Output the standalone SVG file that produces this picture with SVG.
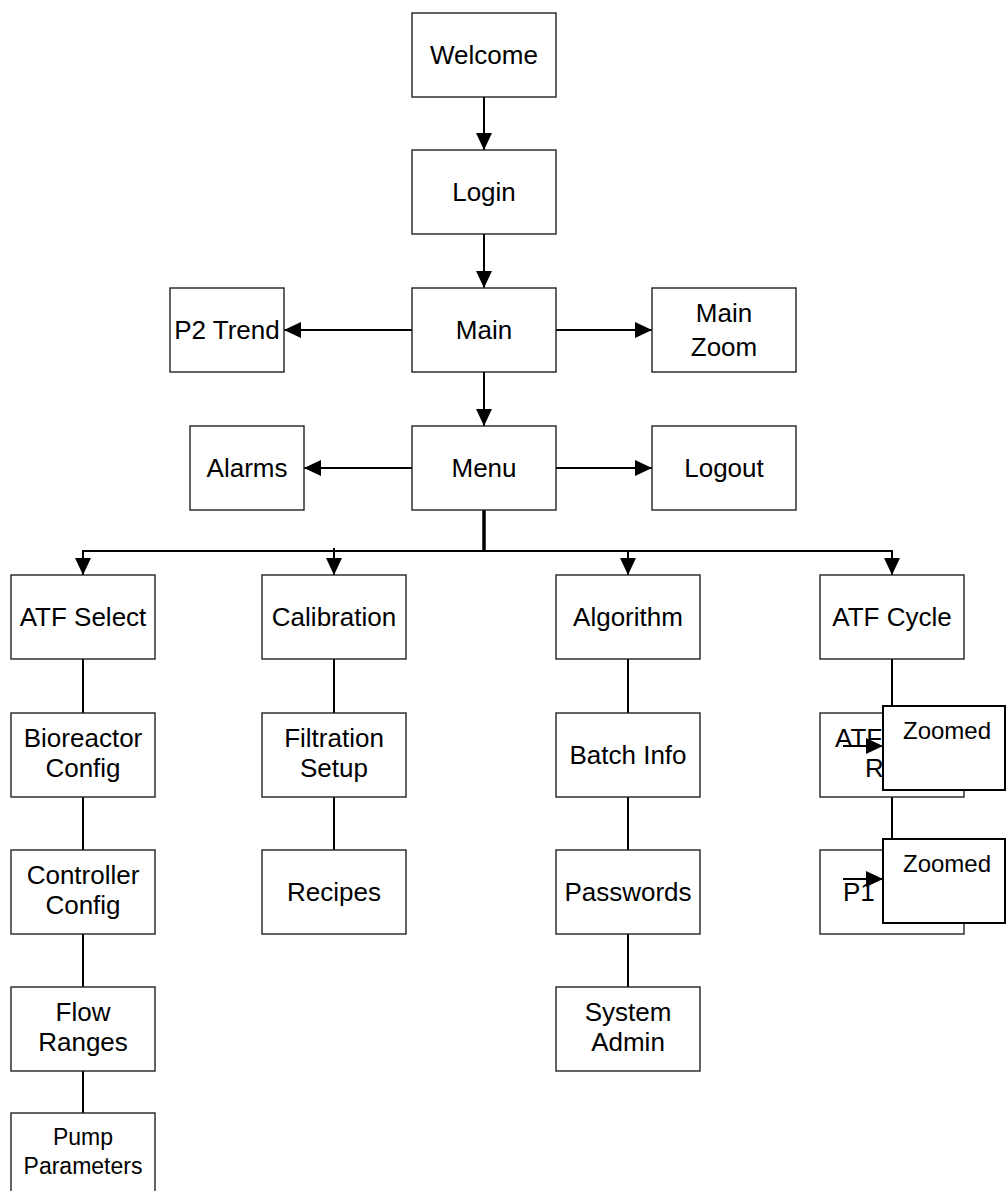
<svg xmlns="http://www.w3.org/2000/svg" width="1006" height="1191" viewBox="0 0 1006 1191">
<style>
.box{fill:#fff;stroke:#222;stroke-width:1.4}
.zbox{fill:#fff;stroke:#000;stroke-width:2}
.lbl{font-family:"Liberation Sans",Arial,sans-serif;font-size:26px;fill:#000;text-anchor:middle}
.lbs{font-family:"Liberation Sans",Arial,sans-serif;font-size:23px;fill:#000;text-anchor:middle}
.zl{font-family:"Liberation Sans",Arial,sans-serif;font-size:24px;fill:#000}
.ln{stroke:#000;stroke-width:2;fill:none}
</style>
<defs>
<marker id="ahb" markerWidth="17" markerHeight="16" refX="17" refY="8" orient="auto" markerUnits="userSpaceOnUse" viewBox="0 0 17 16">
<path d="M0,0 L17,8 L0,16 Z" fill="#000"/>
</marker>
</defs>
<rect width="1006" height="1191" fill="#fff"/>
<g id="connectors">
<line class="ln" x1="484" y1="97" x2="484" y2="150" marker-end="url(#ahb)"/>
<line class="ln" x1="484" y1="234" x2="484" y2="288" marker-end="url(#ahb)"/>
<line class="ln" x1="484" y1="372" x2="484" y2="426" marker-end="url(#ahb)"/>
<line class="ln" x1="412" y1="330" x2="284" y2="330" marker-end="url(#ahb)"/>
<line class="ln" x1="556" y1="330" x2="652" y2="330" marker-end="url(#ahb)"/>
<line class="ln" x1="412" y1="468" x2="304" y2="468" marker-end="url(#ahb)"/>
<line class="ln" x1="556" y1="468" x2="652" y2="468" marker-end="url(#ahb)"/>
<line x1="484" y1="510" x2="484" y2="552" stroke="#000" stroke-width="3.5"/>
<polyline class="ln" points="83,575 83,551 892,551 892,575" marker-end="url(#ahb)"/>
<line class="ln" x1="83" y1="560" x2="83" y2="575" marker-end="url(#ahb)"/>
<line class="ln" x1="334" y1="548" x2="334" y2="575" marker-end="url(#ahb)"/>
<line class="ln" x1="628" y1="551" x2="628" y2="575" marker-end="url(#ahb)"/>
<line class="ln" x1="83" y1="659" x2="83" y2="713"/>
<line class="ln" x1="83" y1="796" x2="83" y2="850"/>
<line class="ln" x1="83" y1="934" x2="83" y2="987"/>
<line class="ln" x1="83" y1="1071" x2="83" y2="1113"/>
<line class="ln" x1="334" y1="659" x2="334" y2="713"/>
<line class="ln" x1="334" y1="796" x2="334" y2="850"/>
<line class="ln" x1="628" y1="659" x2="628" y2="713"/>
<line class="ln" x1="628" y1="796" x2="628" y2="850"/>
<line class="ln" x1="628" y1="934" x2="628" y2="987"/>
<line class="ln" x1="892" y1="659" x2="892" y2="713"/>
<line class="ln" x1="892" y1="796" x2="892" y2="850"/>
</g>
<g id="welcome"><rect class="box" x="412" y="13" width="144" height="84"/><text class="lbl" x="484" y="64">Welcome</text></g>
<g id="login"><rect class="box" x="412" y="150" width="144" height="84"/><text class="lbl" x="484" y="201">Login</text></g>
<g id="main"><rect class="box" x="412" y="288" width="144" height="84"/><text class="lbl" x="484" y="339">Main</text></g>
<g id="p2trend"><rect class="box" x="170" y="288" width="114" height="84"/><text class="lbl" x="227" y="339">P2 Trend</text></g>
<g id="mainzoom"><rect class="box" x="652" y="288" width="144" height="84"/><text class="lbl" x="724" y="322">Main</text><text class="lbl" x="724" y="356">Zoom</text></g>
<g id="menu"><rect class="box" x="412" y="426" width="144" height="84"/><text class="lbl" x="484" y="477">Menu</text></g>
<g id="alarms"><rect class="box" x="190" y="426" width="114" height="84"/><text class="lbl" x="247" y="477">Alarms</text></g>
<g id="logout"><rect class="box" x="652" y="426" width="144" height="84"/><text class="lbl" x="724" y="477">Logout</text></g>
<g id="atfselect"><rect class="box" x="11" y="575" width="144" height="84"/><text class="lbl" x="83" y="626">ATF Select</text></g>
<g id="calibration"><rect class="box" x="262" y="575" width="144" height="84"/><text class="lbl" x="334" y="626">Calibration</text></g>
<g id="algorithm"><rect class="box" x="556" y="575" width="144" height="84"/><text class="lbl" x="628" y="626">Algorithm</text></g>
<g id="atfcycle"><rect class="box" x="820" y="575" width="144" height="84"/><text class="lbl" x="892" y="626">ATF Cycle</text></g>
<g id="bioreactor"><rect class="box" x="11" y="713" width="144" height="84"/><text class="lbl" x="83" y="747">Bioreactor</text><text class="lbl" x="83" y="777">Config</text></g>
<g id="filtration"><rect class="box" x="262" y="713" width="144" height="84"/><text class="lbl" x="334" y="747">Filtration</text><text class="lbl" x="334" y="777">Setup</text></g>
<g id="batchinfo"><rect class="box" x="556" y="713" width="144" height="84"/><text class="lbl" x="628" y="764">Batch Info</text></g>
<g id="atfr"><rect class="box" x="820" y="713" width="144" height="84"/><text class="lbl" x="835" y="747" style="text-anchor:start">ATF</text><text class="lbl" x="865" y="777" style="text-anchor:start">R</text></g>
<g id="controller"><rect class="box" x="11" y="850" width="144" height="84"/><text class="lbl" x="83" y="884">Controller</text><text class="lbl" x="83" y="914">Config</text></g>
<g id="recipes"><rect class="box" x="262" y="850" width="144" height="84"/><text class="lbl" x="334" y="901">Recipes</text></g>
<g id="passwords"><rect class="box" x="556" y="850" width="144" height="84"/><text class="lbl" x="628" y="901">Passwords</text></g>
<g id="p1"><rect class="box" x="820" y="850" width="144" height="84"/><text class="lbl" x="843" y="901" style="text-anchor:start">P1</text></g>
<g id="flowranges"><rect class="box" x="11" y="987" width="144" height="84"/><text class="lbl" x="83" y="1021">Flow</text><text class="lbl" x="83" y="1051">Ranges</text></g>
<g id="sysadmin"><rect class="box" x="556" y="987" width="144" height="84"/><text class="lbl" x="628" y="1021">System</text><text class="lbl" x="628" y="1051">Admin</text></g>
<g id="pump"><rect class="box" x="11" y="1113" width="144" height="84"/><text class="lbs" x="83" y="1145">Pump</text><text class="lbs" x="83" y="1174">Parameters</text></g>
<g id="zoomed1"><line class="ln" x1="843" y1="746" x2="883" y2="746" marker-end="url(#ahb)"/><rect class="zbox" x="883" y="706" width="122" height="84"/><text class="zl" x="903" y="739">Zoomed</text></g>
<g id="zoomed2"><line class="ln" x1="843" y1="879" x2="883" y2="879" marker-end="url(#ahb)"/><rect class="zbox" x="883" y="839" width="122" height="84"/><text class="zl" x="903" y="872">Zoomed</text></g>
</svg>
